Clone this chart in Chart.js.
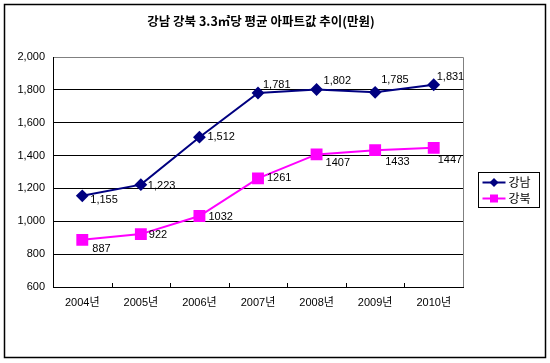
<!DOCTYPE html>
<html>
<head>
<meta charset="utf-8">
<script src="https://cdn.jsdelivr.net/npm/chart.js@4.4.0/dist/chart.umd.min.js"></script>
<style>
  html,body{margin:0;padding:0;background:#fff;}
  #wrap{width:550px;height:363px;position:relative;}
</style>
</head>
<body>
<div id="wrap"><canvas id="c" width="550" height="363"></canvas></div>
<script>
const TITLE = '강남 강북 3.3㎡당 평균 아파트값 추이(만원)';
const categories = ['2004년','2005년','2006년','2007년','2008년','2009년','2010년'];
const seriesNames = ['강남','강북'];
const gangnam = [1155, 1223, 1512, 1781, 1802, 1785, 1831];
const gangbuk = [887, 922, 1032, 1261, 1407, 1433, 1447];
const yTicks = [600, 800, 1000, 1200, 1400, 1600, 1800, 2000];

const labelStyle = [
  {dx:[8,7,8,5,7,6,3], dy:[4,1,0,-8,-9,-12,-8], comma:true},
  {dx:[10,8,9,9,9,10,4], dy:[9,1,1,0,9,12,12], comma:false}
];

const FONT = '"Liberation Sans", Arial, "Noto Sans CJK KR", sans-serif';

const framePlugin = {
  id:'frame',
  beforeDraw(chart){
    const ctx = chart.ctx;
    ctx.save();
    ctx.fillStyle = '#fff';
    ctx.fillRect(0,0,chart.width,chart.height);
    ctx.strokeStyle = '#000';
    ctx.lineWidth = 1.5;
    ctx.strokeRect(4.5,4.5,541,353);
    ctx.fillStyle = '#000';
    ctx.font = 'bold 12.5px "Noto Sans CJK KR", sans-serif';
    ctx.textAlign = 'center';
    ctx.textBaseline = 'middle';
    ctx.fillText(TITLE, 261, 21);
    ctx.restore();
  },
  beforeDatasetsDraw(chart){
    const ctx = chart.ctx, a = chart.chartArea, xs = chart.scales.x;
    ctx.save();
    ctx.strokeStyle = '#808080';
    ctx.lineWidth = 1;
    ctx.beginPath();
    ctx.moveTo(Math.round(a.left)+0.5, Math.round(a.top)+0.5);
    ctx.lineTo(Math.round(a.right)+0.5, Math.round(a.top)+0.5);
    ctx.lineTo(Math.round(a.right)+0.5, Math.round(a.bottom)+0.5);
    ctx.stroke();
    ctx.strokeStyle = '#000';
    ctx.beginPath();
    ctx.moveTo(Math.round(a.left)+0.5, Math.round(a.top));
    ctx.lineTo(Math.round(a.left)+0.5, Math.round(a.bottom)+0.5);
    ctx.lineTo(Math.round(a.right)+1, Math.round(a.bottom)+0.5);
    ctx.stroke();
    const n = categories.length;
    const step = (xs.getPixelForValue(1) - xs.getPixelForValue(0));
    ctx.beginPath();
    for(let i=1;i<n;i++){
      const x = Math.round(xs.getPixelForValue(i) - step/2)+0.5;
      ctx.moveTo(x, Math.round(a.bottom));
      ctx.lineTo(x, Math.round(a.bottom)-4);
    }
    ctx.stroke();
    ctx.restore();
  },
  afterDatasetsDraw(chart){
    const ctx = chart.ctx;
    ctx.save();
    ctx.fillStyle = '#000';
    ctx.font = '11px ' + FONT;
    ctx.textAlign = 'left';
    ctx.textBaseline = 'middle';
    chart.data.datasets.forEach((ds, di)=>{
      const meta = chart.getDatasetMeta(di);
      const st = labelStyle[di];
      meta.data.forEach((pt, i)=>{
        const v = ds.data[i];
        const txt = st.comma ? v.toLocaleString('en-US') : String(v);
        ctx.fillText(txt, pt.x + st.dx[i], pt.y + st.dy[i]);
      });
    });
    const lx = 478.5, ly = 172.5, lw = 61, lh = 35;
    ctx.fillStyle = '#fff';
    ctx.fillRect(lx, ly, lw, lh);
    ctx.strokeStyle = '#000';
    ctx.lineWidth = 1;
    ctx.strokeRect(lx, ly, lw, lh);
    chart.data.datasets.forEach((ds, di)=>{
      const cy = ly + 10 + di*16;
      ctx.strokeStyle = ds.borderColor;
      ctx.lineWidth = 2;
      ctx.beginPath();
      ctx.moveTo(lx+4, cy);
      ctx.lineTo(lx+27, cy);
      ctx.stroke();
      ctx.fillStyle = ds.borderColor;
      const cx = lx + 15.5;
      if(ds.pointStyle === 'rectRot'){
        ctx.beginPath();
        ctx.moveTo(cx, cy-4.5); ctx.lineTo(cx+4.5, cy); ctx.lineTo(cx, cy+4.5); ctx.lineTo(cx-4.5, cy); ctx.closePath();
        ctx.fill();
      } else {
        ctx.fillRect(cx-4, cy-4, 8, 8);
      }
      ctx.fillStyle = '#000';
      ctx.font = '12px "Noto Sans CJK KR", sans-serif';
      ctx.textAlign = 'left';
      ctx.textBaseline = 'middle';
      ctx.fillText(ds.label, lx + 30, cy);
    });
    ctx.restore();
  }
};

new Chart(document.getElementById('c'), {
  type:'line',
  data:{
    labels: categories,
    datasets:[
      {label:seriesNames[0], data:gangnam, borderColor:'#000080', backgroundColor:'#000080',
       borderWidth:2, pointStyle:'rectRot', pointRadius:5, pointHoverRadius:5, tension:0},
      {label:seriesNames[1], data:gangbuk, borderColor:'#FF00FF', backgroundColor:'#FF00FF',
       borderWidth:2, pointStyle:'rect', pointRadius:7, pointHoverRadius:7, tension:0}
    ]
  },
  options:{
    responsive:false,
    animation:false,
    devicePixelRatio:1,
    layout:{padding:{top:57, right:87, left:0, bottom:0}},
    plugins:{legend:{display:false}, title:{display:false}, tooltip:{enabled:false}},
    scales:{
      x:{
        offset:true,
        grid:{display:false, drawTicks:false},
        border:{display:false},
        ticks:{color:'#000', font:{family:FONT, size:11}, padding:9, maxRotation:0, autoSkip:false},
        afterFit(s){ s.height = 76; }
      },
      y:{
        min:600, max:2000,
        afterBuildTicks(s){ s.ticks = yTicks.map(v=>({value:v})); },
        grid:{color:(c)=> c.tick && c.tick.value===2000 ? 'rgba(0,0,0,0)' : '#000', lineWidth:1, drawTicks:false},
        border:{display:false},
        ticks:{color:'#000', font:{family:FONT, size:11}, padding:8,
               callback:(v)=> Number(v).toLocaleString('en-US')},
        afterFit(s){ s.width = 53; }
      }
    }
  },
  plugins:[framePlugin]
});
</script>
</body>
</html>
